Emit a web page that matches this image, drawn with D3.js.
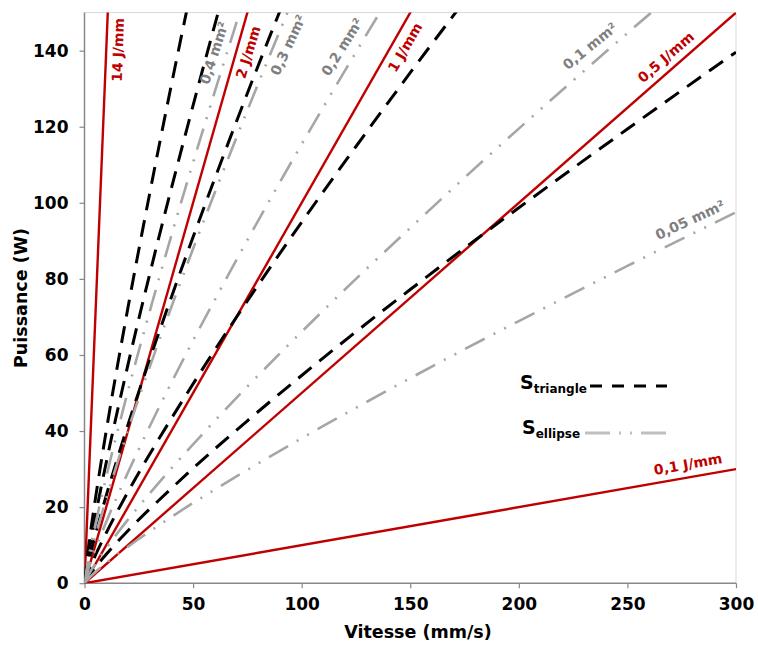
<!DOCTYPE html>
<html><head><meta charset="utf-8">
<script src="https://cdn.jsdelivr.net/npm/d3@7"></script>
<style>body{margin:0;background:#fff}</style>
</head><body><svg id="c" width="758" height="646"></svg>
<script>
// ---------- data ----------
const xTicks = [0, 50, 100, 150, 200, 250, 300];
const yTicks = [0, 20, 40, 60, 80, 100, 120, 140];

// Energy per unit length (straight red lines P = E * v)
const energies = [0.1, 0.5, 1, 2, 14];
const energyLabels = ["0,1 J/mm", "0,5 J/mm", "1 J/mm", "2 J/mm", "14 J/mm"];
const energyLabelPos = [[277.9, 31.3], [267.7, 138.3], [147.6, 140.9], [75.3, 139.6], [15.4, 140.2]];
const energyLabelAngle = [-10, -41, -60, -73, -88];

// Speeds (mm/s) at which curves were read
const vGrid = [0, 2, 5, 10, 20, 30, 40, 50, 60, 75, 100, 125, 150, 175, 200, 250, 300];

// S_triangle curves (power W), areas 0.05 .. 0.4 mm²
const tri005 = [0, 1.9, 4.2, 7.6, 13.8, 19.5, 24.9, 30.2, 35.3, 42.7, 54.6, 66.1, 77.2, 88.1, 98.7, 119.4, 139.6];
const tri01  = [0, 3.3, 7.3, 13.2, 24.0, 33.9, 43.3, 52.4, 61.3, 74.2, 94.9, 114.8, 134.2, 153.1];
const tri02  = [0, 5.8, 12.7, 23.0, 41.6, 58.8, 75.2, 91.0, 106.4, 128.8, 164.6];
const tri03  = [0, 8.0, 17.5, 31.7, 57.4, 81.2, 103.8, 125.6, 146.8, 177.7];
const tri04  = [0, 10.1, 22.1, 40.0, 72.4, 102.4, 131.0, 158.5];

// S_ellipse curves
const ell005 = [0, 1.3, 2.9, 5.3, 9.6, 13.6, 17.4, 21.1, 24.6, 29.8, 38.1, 46.1, 53.9, 61.5, 68.9, 83.4, 97.5];
const ell01  = [0, 2.3, 5.1, 9.2, 16.7, 23.6, 30.2, 36.5, 42.7, 51.7, 66.1, 80.0, 93.4, 106.6, 119.5, 144.6, 169.0];
const ell02  = [0, 4.1, 8.9, 16.1, 29.1, 41.2, 52.7, 63.8, 74.5, 90.2, 115.4, 139.6, 163.2];
const ell03  = [0, 5.6, 12.3, 22.2, 40.2, 56.8, 72.6, 87.9, 102.7, 124.3, 159.0];
const ell04  = [0, 7.1, 15.4, 27.9, 50.5, 71.4, 91.4, 110.6, 129.2, 156.4];

const areaLabels = ["0,05 mm²", "0,1 mm²", "0,2 mm²", "0,3 mm²", "0,4 mm²"];
const areaLabelPos = [[278.8, 95.5], [232.7, 141.2], [118.6, 141.0], [93.7, 141.5], [59.6, 139.4]];
const areaLabelAngle = [-25, -39, -58, -65, -72];

// ---------- chart ----------
const svg = d3.select("#c");
const FONT = "'DejaVu Sans', Verdana, sans-serif";
const x = d3.scaleLinear().domain([0, 300]).range([84.5, 736]);
const y = d3.scaleLinear().domain([0, 150]).range([583.2, 12.6]);

svg.append("defs").append("clipPath").attr("id", "plot")
  .append("rect").attr("x", x(0)).attr("y", y(150))
  .attr("width", x(300) - x(0)).attr("height", y(0) - y(150));

// frame (light top/right)
svg.append("line").attr("x1", x(0)).attr("x2", x(300)).attr("y1", y(150)).attr("y2", y(150))
  .attr("stroke", "#d9d9d9").attr("stroke-width", 1);
svg.append("line").attr("x1", x(300)).attr("x2", x(300)).attr("y1", y(150)).attr("y2", y(0))
  .attr("stroke", "#d9d9d9").attr("stroke-width", 1);

// axes
const xAxis = d3.axisBottom(x).tickValues(xTicks).tickSize(5).tickPadding(10);
const yAxis = d3.axisLeft(y).tickValues(yTicks).tickSize(5).tickPadding(11);
const gx = svg.append("g").attr("transform", `translate(0,${y(0)})`).call(xAxis);
const gy = svg.append("g").attr("transform", `translate(${x(0)},0)`).call(yAxis);
[gx, gy].forEach(g => {
  g.select(".domain").attr("stroke", "#888").attr("stroke-width", 1.5);
  g.selectAll(".tick line").attr("stroke", "#888").attr("stroke-width", 1.2);
  g.selectAll("text").attr("font-family", FONT).attr("font-weight", "bold")
    .attr("font-size", 17).attr("fill", "#000");
});
gy.select(".domain").attr("d", `M0,${y(0)}V${y(150)}`);
gx.select(".domain").attr("d", `M${x(0)},0H${x(300)}`);

svg.append("text").attr("x", 418).attr("y", 638).attr("text-anchor", "middle")
  .attr("font-family", FONT).attr("font-weight", "bold").attr("font-size", 17.5)
  .text("Vitesse (mm/s)");
svg.append("text").attr("transform", "translate(27,298) rotate(-90)").attr("text-anchor", "middle")
  .attr("font-family", FONT).attr("font-weight", "bold").attr("font-size", 17.5)
  .text("Puissance (W)");

const plot = svg.append("g").attr("clip-path", "url(#plot)");
const line = d3.line().x(d => x(d[0])).y(d => y(d[1])).curve(d3.curveMonotoneX);
const toPts = arr => arr.map((p, i) => [vGrid[i], p]);

// red straight lines
energies.forEach(E => {
  plot.append("path").datum([[0, 0], [300, E * 300]])
    .attr("d", d3.line().x(d => x(d[0])).y(d => y(d[1])))
    .attr("fill", "none").attr("stroke", "#c00000").attr("stroke-width", 2.4);
});

// black dashed (triangle)
[tri005, tri01, tri02, tri03, tri04].forEach(s => {
  plot.append("path").datum(toPts(s)).attr("d", line)
    .attr("fill", "none").attr("stroke", "#000").attr("stroke-width", 3)
    .attr("stroke-dasharray", "17,10");
});

// gray dash-dot-dot (ellipse)
[ell005, ell01, ell02, ell03, ell04].forEach(s => {
  plot.append("path").datum(toPts(s)).attr("d", line)
    .attr("fill", "none").attr("stroke", "#a6a6a6").attr("stroke-width", 2.6)
    .attr("stroke-dasharray", "22,10,2,10,2,10");
});

// labels
energyLabels.forEach((t, i) => {
  const [vx, py] = energyLabelPos[i];
  svg.append("text").attr("transform", `translate(${x(vx)},${y(py)}) rotate(${energyLabelAngle[i]})`)
    .attr("text-anchor", "middle").attr("dominant-baseline", "central")
    .attr("font-family", FONT).attr("font-weight", "bold").attr("font-size", 14)
    .attr("fill", "#c00000").text(t);
});
areaLabels.forEach((t, i) => {
  const [vx, py] = areaLabelPos[i];
  svg.append("text").attr("transform", `translate(${x(vx)},${y(py)}) rotate(${areaLabelAngle[i]})`)
    .attr("text-anchor", "middle").attr("dominant-baseline", "central")
    .attr("font-family", FONT).attr("font-weight", "bold").attr("font-size", 14)
    .attr("fill", "#808080").text(t);
});

// legend
const leg = svg.append("g");
const t1 = leg.append("text").attr("x", 520).attr("y", 389).attr("font-family", FONT).attr("font-weight", "bold");
t1.append("tspan").attr("font-size", 19).text("S");
t1.append("tspan").attr("font-size", 12).attr("dy", 4).text("triangle");
leg.append("line").attr("x1", 590).attr("x2", 667).attr("y1", 386).attr("y2", 386)
  .attr("stroke", "#000").attr("stroke-width", 3).attr("stroke-dasharray", "12,10");
const t2 = leg.append("text").attr("x", 522).attr("y", 434).attr("font-family", FONT).attr("font-weight", "bold");
t2.append("tspan").attr("font-size", 19).text("S");
t2.append("tspan").attr("font-size", 12).attr("dy", 4).text("ellipse");
leg.append("line").attr("x1", 585).attr("x2", 669).attr("y1", 433).attr("y2", 433)
  .attr("stroke", "#bfbfbf").attr("stroke-width", 3).attr("stroke-dasharray", "25,9,2,9,2,9");
</script></body></html>
